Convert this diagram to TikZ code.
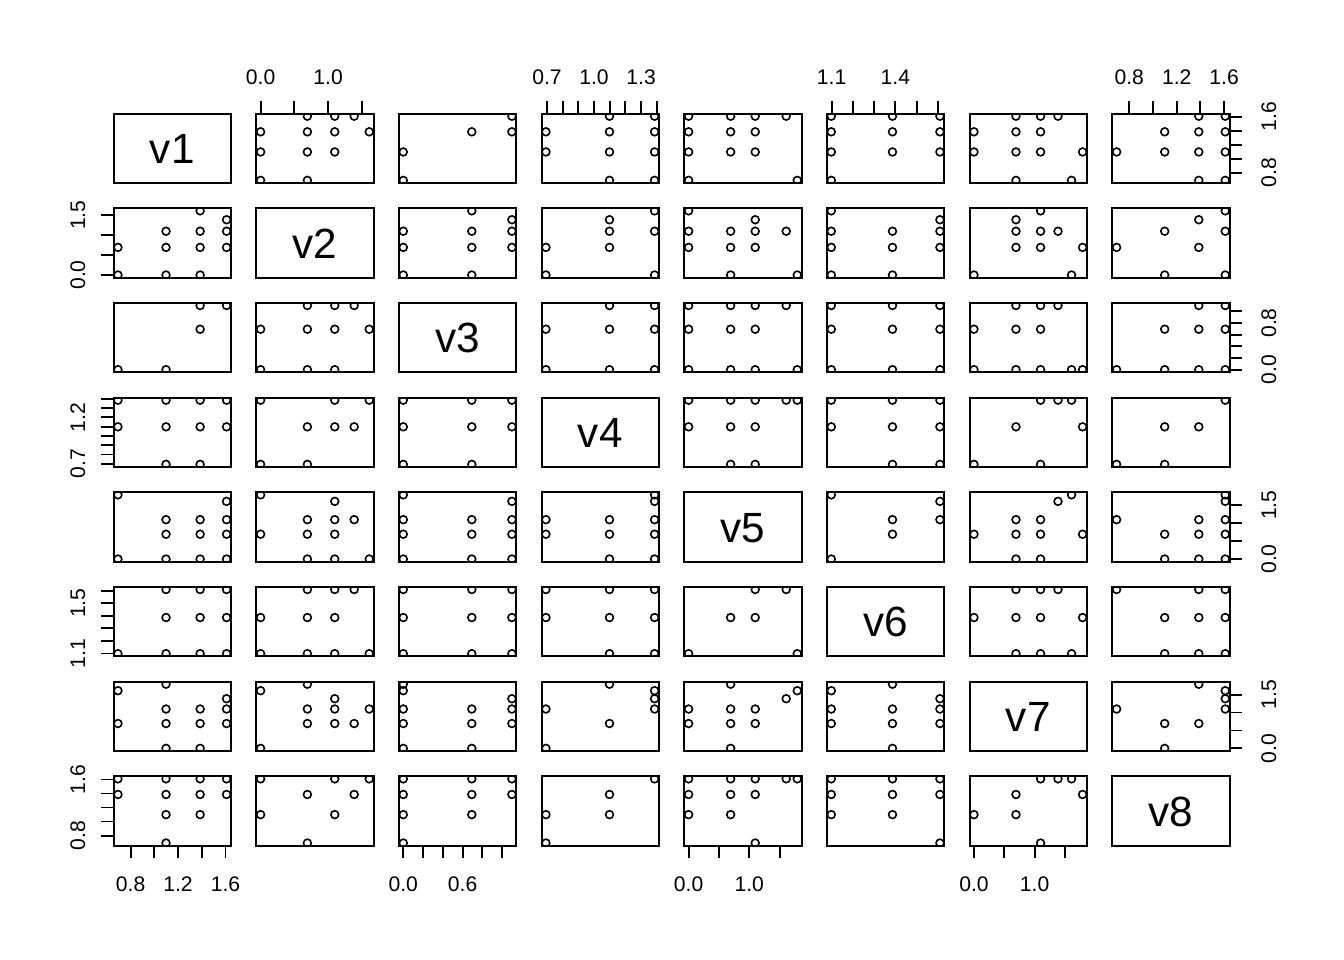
\documentclass[tikz,border=0pt]{standalone}
\usepackage{fontspec}
\setmainfont{Liberation Sans}
\newcommand\vlo[1]{\ifcase#1 \or 0.693147\or 0\or 0\or 0.693147\or 0\or 1.098612\or 0\or 0.693147\fi}
\newcommand\vhi[1]{\ifcase#1 \or 1.609438\or 1.609438\or 1.098612\or 1.386294\or 1.791759\or 1.609438\or 1.791759\or 1.609438\fi}
\newcommand\panelpts[5]{%
  \begin{scope}
  \pgfmathsetmacro\pL{113.6+(#2-1)*142.667}%
  \pgfmathsetmacro\pT{113.6+(#1-1)*94.667}%
  \edef\xlo{\vlo{#2}}\edef\xhi{\vhi{#2}}%
  \edef\ylo{\vlo{#1}}\edef\yhi{\vhi{#1}}%
  \clip (\pL,\pT) rectangle ++(117.333,69.333);
  \foreach \a/\b in {#3}{%
    \pgfmathsetmacro\px{\pL+4.346+(ln(#4)-\xlo)/(\xhi-\xlo)*108.64}%
    \pgfmathsetmacro\py{\pT+66.765-(ln(#5)-\ylo)/(\yhi-\ylo)*64.198}%
    \draw[datapt] (\px,\py) circle[radius=3.9pt];
  }
  \end{scope}}
\newcommand\pairpts[3]{\panelpts{#2}{#1}{#3}{\a}{\b}\panelpts{#1}{#2}{#3}{\b}{\a}}
\newcommand\xaxis[4]{%
  \pgfmathsetmacro\pL{113.6+(#1-1)*142.667}%
  \edef\xlo{\vlo{#1}}\edef\xhi{\vhi{#1}}%
  \ifnum#2=1 \def\ya{845.6}\def\yb{858.27}\def\yl{891.5}\else\def\ya{113.6}\def\yb{100.93}\def\yl{84.3}\fi
  \foreach \v in {#3}{\pgfmathsetmacro\px{\pL+4.346+(\v-\xlo)/(\xhi-\xlo)*108.64}\draw[tickln] (\px,\ya) -- (\px,\yb);}
  \foreach \v [count=\i] in {#4}{\pgfmathsetmacro\px{\pL+4.346+(\v-\xlo)/(\xhi-\xlo)*108.64}\node[axlab,anchor=base] (xl#1-\i) at (\px,\yl) {\v};}
}
\newcommand\yaxis[4]{%
  \pgfmathsetmacro\pT{113.6+(#1-1)*94.667}%
  \edef\ylo{\vlo{#1}}\edef\yhi{\vhi{#1}}%
  \ifnum#2=2 \def\xa{113.6}\def\xb{100.93}\def\xl{85}\else\def\xa{1229.6}\def\xb{1242.27}\def\xl{1276}\fi
  \foreach \v in {#3}{\pgfmathsetmacro\py{\pT+66.765-(\v-\ylo)/(\yhi-\ylo)*64.198}\draw[tickln] (\xa,\py) -- (\xb,\py);}
  \foreach \v [count=\i] in {#4}{\pgfmathsetmacro\py{\pT+66.765-(\v-\ylo)/(\yhi-\ylo)*64.198}\node[axlab,rotate=90,anchor=base] (yl#1-\i) at (\xl,\py) {\v};}
}
\tikzset{
  frame/.style={draw=black,line width=1.9pt},
  tickln/.style={draw=black,line width=1.9pt},
  datapt/.style={draw=black,line width=1.6pt},
  axlab/.style={font=\fontsize{21.12}{25}\selectfont,inner sep=0pt},
  diaglab/.style={font=\fontsize{42.24}{50}\selectfont,inner sep=0pt}
}
\begin{document}
\begin{tikzpicture}[x=1pt,y=-1pt]
\fill[white] (0,0) rectangle (1344,960);
\useasboundingbox (0,0) rectangle (1344,960);
% panel frames
\foreach \r in {1,...,8}{\foreach \c in {1,...,8}{
  \draw[frame] ({113.6+(\c-1)*142.667},{113.6+(\r-1)*94.667}) rectangle ++(117.333,69.333);}}
% diagonal labels
\foreach \k in {1,...,8}{
  \node[diaglab,anchor=base] (v\k) at ({113.6+(\k-1)*142.667+58.667},{113.6+(\k-1)*94.667+34.667+15.3}) {v\k};}
% data points (pairs of levels; plotted values are natural logs)
\pairpts{1}{2}{5/2,5/3,5/4,4/1,4/2,4/3,4/5,3/1,3/2,3/3,2/1,2/2}
\pairpts{1}{3}{5/3,4/2,4/3,3/1,2/1}
\pairpts{1}{4}{5/3,5/4,4/2,4/3,4/4,3/2,3/3,3/4,2/3,2/4}
\pairpts{1}{5}{5/1,5/2,5/3,5/5,4/1,4/2,4/3,3/1,3/2,3/3,2/1,2/6}
\pairpts{1}{6}{5/3,5/4,5/5,4/3,4/4,4/5,3/3,3/4,3/5,2/3}
\pairpts{1}{7}{5/2,5/3,5/4,4/1,4/2,4/3,3/1,3/2,3/3,3/6,2/2,2/5}
\pairpts{1}{8}{5/4,5/5,4/3,4/4,4/5,3/2,3/3,3/4,3/5,2/4,2/5}
\pairpts{2}{3}{5/2,4/3,3/1,3/2,3/3,2/1,2/2,2/3,1/1,1/2}
\pairpts{2}{4}{5/4,4/3,3/3,3/4,2/2,2/3,1/2,1/4}
\pairpts{2}{5}{5/1,4/3,3/1,3/2,3/3,3/5,2/1,2/2,2/3,1/2,1/6}
\pairpts{2}{6}{5/3,4/5,3/3,3/4,3/5,2/3,2/4,2/5,1/3,1/4}
\pairpts{2}{7}{5/3,4/2,3/2,3/3,3/4,2/2,2/3,2/6,1/1,1/5}
\pairpts{2}{8}{5/5,4/4,3/3,3/5,2/2,2/4,1/3,1/5}
\pairpts{3}{4}{3/3,3/4,2/2,2/3,2/4,1/2,1/3,1/4}
\pairpts{3}{5}{3/1,3/2,3/3,3/5,2/1,2/2,2/3,1/1,1/2,1/3,1/6}
\pairpts{3}{6}{1/3,1/4,1/5,2/3,2/4,2/5,3/3,3/4,3/5}
\pairpts{3}{7}{3/2,3/3,3/4,2/1,2/2,2/3,1/1,1/2,1/3,1/5,1/6}
\pairpts{3}{8}{3/4,3/5,2/3,2/4,2/5,1/2,1/3,1/4,1/5}
\pairpts{4}{5}{4/1,4/2,4/3,4/5,4/6,3/1,3/2,3/3,2/2,2/3}
\pairpts{4}{6}{4/3,4/4,4/5,3/3,3/4,3/5,2/4,2/5}
\pairpts{4}{7}{4/3,4/4,4/5,3/2,3/6,2/1,2/3}
\pairpts{4}{8}{4/5,3/3,3/4,2/2,2/3}
\pairpts{5}{6}{6/3,5/5,3/4,3/5,2/4,1/3}
\pairpts{5}{7}{6/5,5/4,3/2,3/3,2/1,2/2,2/3,2/6,1/2,1/3}
\pairpts{5}{8}{6/5,5/5,3/2,3/4,3/5,2/3,2/4,2/5,1/3,1/4,1/5}
\pairpts{6}{7}{5/2,5/3,5/4,4/1,4/2,4/3,4/6,3/2,3/3,3/5}
\pairpts{6}{8}{5/2,5/4,5/5,4/3,4/4,4/5,3/3,3/4,3/5}
\pairpts{7}{8}{6/4,5/5,4/5,3/2,3/5,2/3,2/4,1/3}
% axes
\xaxis{1}{1}{0.8,1.0,1.2,1.4,1.6}{0.8,1.2,1.6}
\xaxis{3}{1}{0.0,0.2,0.4,0.6,0.8,1.0}{0.0,0.6}
\xaxis{5}{1}{0.0,0.5,1.0,1.5}{0.0,1.0}
\xaxis{7}{1}{0.0,0.5,1.0,1.5}{0.0,1.0}
\xaxis{2}{3}{0.0,0.5,1.0,1.5}{0.0,1.0}
\xaxis{4}{3}{0.7,0.8,0.9,1.0,1.1,1.2,1.3,1.4}{0.7,1.0,1.3}
\xaxis{6}{3}{1.1,1.2,1.3,1.4,1.5,1.6}{1.1,1.4}
\xaxis{8}{3}{0.8,1.0,1.2,1.4,1.6}{0.8,1.2,1.6}
\yaxis{2}{2}{0.0,0.5,1.0,1.5}{0.0,1.5}
\yaxis{4}{2}{0.7,0.8,0.9,1.0,1.1,1.2,1.3,1.4}{0.7,1.2}
\yaxis{6}{2}{1.1,1.2,1.3,1.4,1.5,1.6}{1.1,1.5}
\yaxis{8}{2}{0.8,1.0,1.2,1.4,1.6}{0.8,1.6}
\yaxis{1}{4}{0.8,1.0,1.2,1.4,1.6}{0.8,1.6}
\yaxis{3}{4}{0.0,0.2,0.4,0.6,0.8,1.0}{0.0,0.8}
\yaxis{5}{4}{0.0,0.5,1.0,1.5}{0.0,1.5}
\yaxis{7}{4}{0.0,0.5,1.0,1.5}{0.0,1.5}
\end{tikzpicture}
\end{document}
